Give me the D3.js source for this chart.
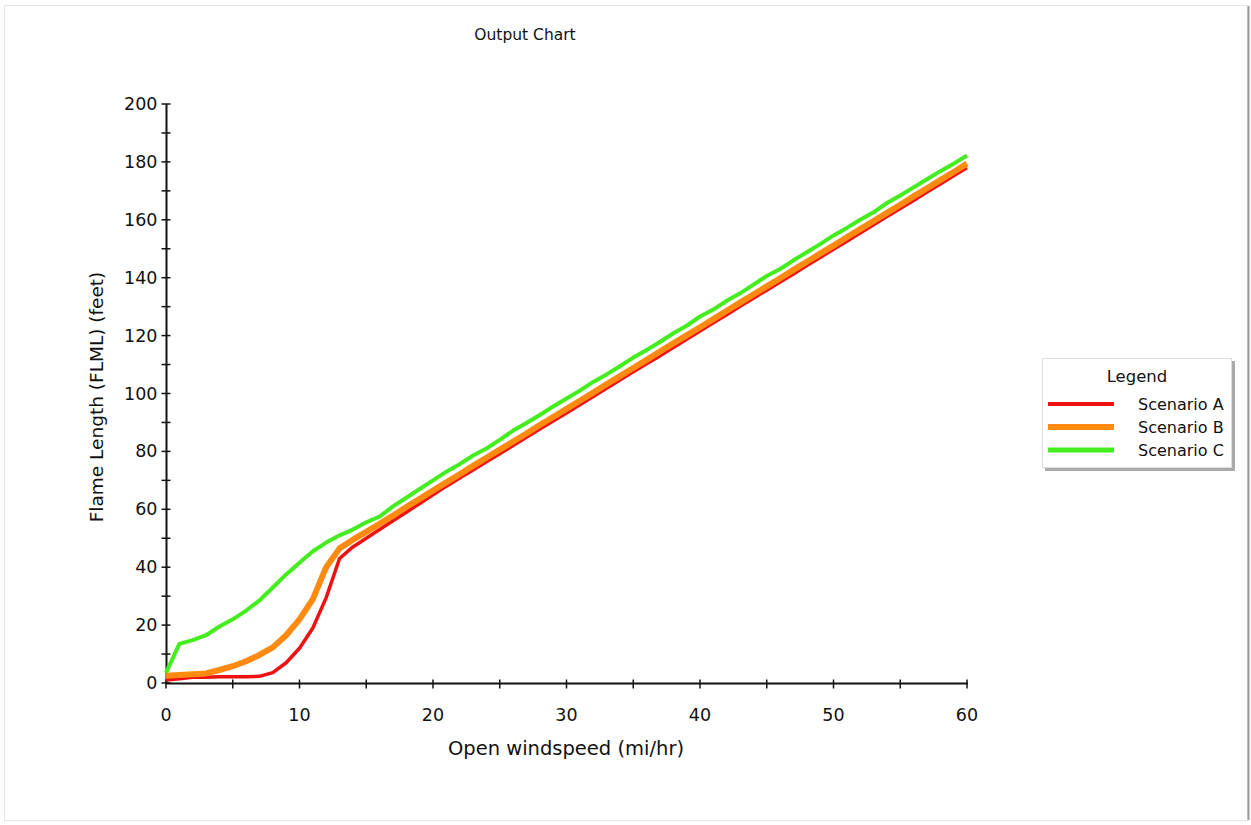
<!DOCTYPE html>
<html>
<head>
<meta charset="utf-8">
<script src="https://cdn.jsdelivr.net/npm/d3@7"></script>
<style>
  body { margin: 0; background: #fff; }
  text { font-family: "DejaVu Sans", Verdana, sans-serif; fill: #111; }
</style>
</head>
<body>
<svg id="chart" width="1251" height="825"></svg>
<script>
'use strict'

// open windspeed (mi/hr)
const windspeed = [0, 1, 2, 3, 4, 5, 6, 7, 8, 9, 10, 11, 12, 13, 14, 15, 16, 17, 18, 19, 20,
  21, 22, 23, 24, 25, 26, 27, 28, 29, 30, 31, 32, 33, 34, 35, 36, 37, 38, 39, 40,
  41, 42, 43, 44, 45, 46, 47, 48, 49, 50, 51, 52, 53, 54, 55, 56, 57, 58, 59, 60]

// flame length (feet)
const scenarioA = [1.0, 1.5, 2.0, 2.0, 2.2, 2.2, 2.2, 2.3, 3.6, 7.0, 12.0, 19.0, 29.5, 43.0, 47.0, 50.0, 53.0, 56.0, 59.0, 62.0, 65.0,
  68.0, 70.8, 73.6, 76.4, 79.2, 82.0, 84.9, 87.7, 90.5, 93.3, 96.1, 99.0, 101.8, 104.7, 107.5, 110.3, 113.0, 115.9, 118.7, 121.6,
  124.4, 127.2, 130.1, 132.9, 135.7, 138.5, 141.3, 144.2, 147.0, 149.8, 152.6, 155.4, 158.3, 161.1, 163.9, 166.7, 169.6, 172.4, 175.2, 178.0]

const scenarioB = [2.5, 2.8, 3.0, 3.3, 4.5, 5.8, 7.5, 9.7, 12.3, 16.5, 22.0, 29.0, 40.0, 46.5, 49.5, 52.2, 55.0, 57.8, 60.8, 63.6, 66.5,
  69.3, 72.1, 75.0, 77.8, 80.6, 83.4, 86.2, 89.1, 91.9, 94.7, 97.5, 100.3, 103.2, 106.0, 108.8, 111.6, 114.5, 117.3, 120.1, 122.9,
  125.7, 128.6, 131.4, 134.2, 137.0, 139.8, 142.7, 145.5, 148.3, 151.1, 154.0, 156.8, 159.6, 162.4, 165.2, 168.1, 170.9, 173.7, 176.5, 179.4]

const scenarioC = [3.5, 13.5, 14.8, 16.5, 19.5, 22.0, 25.0, 28.5, 33.0, 37.5, 41.5, 45.5, 48.5, 51.0, 53.0, 55.5, 57.5, 61.0, 64.0, 67.0, 70.0,
  73.0, 75.6, 78.6, 81.0, 84.0, 87.2, 89.8, 92.6, 95.5, 98.3, 101.0, 104.0, 106.6, 109.4, 112.4, 115.0, 117.8, 120.8, 123.4, 126.6,
  129.0, 132.0, 134.6, 137.6, 140.6, 143.0, 146.0, 148.8, 151.6, 154.6, 157.2, 160.0, 162.6, 165.8, 168.4, 171.2, 174.0, 176.8, 179.4, 182.2]

const seriesNames = ['Scenario A', 'Scenario B', 'Scenario C']
const seriesColors = ['#ee1111', '#ff8a10', '#44ee1e']
const seriesWidths = [3.5, 6, 4]
const seriesValues = [scenarioA, scenarioB, scenarioC]

const xMajorTicks = [0, 10, 20, 30, 40, 50, 60]
const xMinorTicks = [5, 15, 25, 35, 45, 55]
const yMajorTicks = [0, 20, 40, 60, 80, 100, 120, 140, 160, 180, 200]
const yMinorTicks = [10, 30, 50, 70, 90, 110, 130, 150, 170, 190]

const svg = d3.select('#chart')

// window frame
svg.append('rect')
  .attr('x', 4.5).attr('y', 5.5).attr('width', 1243).attr('height', 815)
  .attr('fill', '#fff').attr('stroke', '#e4e4e4')
svg.append('line')
  .attr('x1', 1248.5).attr('x2', 1248.5).attr('y1', 6).attr('y2', 820)
  .attr('stroke', '#999').attr('stroke-width', 2)

const x = d3.scaleLinear().domain([0, 60]).range([166, 967])
const y = d3.scaleLinear().domain([0, 200]).range([683, 104])

svg.append('text')
  .attr('x', 525).attr('y', 40)
  .attr('text-anchor', 'middle')
  .style('font-size', '15.5px')
  .text('Output Chart')

// x axis
const xAxis = svg.append('g').attr('transform', 'translate(0,683.5)')
xAxis.append('line')
  .attr('x1', x(0)).attr('x2', x(60) + 1)
  .attr('stroke', '#111').attr('stroke-width', 2)
xAxis.selectAll('line.major').data(xMajorTicks.concat(xMinorTicks)).enter().append('line')
  .attr('x1', d => x(d)).attr('x2', d => x(d))
  .attr('y1', -4).attr('y2', 5)
  .attr('stroke', '#111').attr('stroke-width', 1.5)
xAxis.selectAll('text').data(xMajorTicks).enter().append('text')
  .attr('x', d => x(d)).attr('y', 37)
  .attr('text-anchor', 'middle')
  .style('font-size', '17.5px')
  .text(d => d)

// y axis
const yAxis = svg.append('g').attr('transform', 'translate(166.5,0)')
yAxis.append('line')
  .attr('y1', y(200)).attr('y2', y(0))
  .attr('stroke', '#111').attr('stroke-width', 2)
yAxis.selectAll('line.tick').data(yMajorTicks.concat(yMinorTicks)).enter().append('line')
  .attr('y1', d => y(d)).attr('y2', d => y(d))
  .attr('x1', -5).attr('x2', 4)
  .attr('stroke', '#111').attr('stroke-width', 1.5)
yAxis.selectAll('text').data(yMajorTicks).enter().append('text')
  .attr('x', -9).attr('y', d => y(d) + 6)
  .attr('text-anchor', 'end')
  .style('font-size', '17.5px')
  .text(d => d)

svg.append('text')
  .attr('x', 566).attr('y', 755)
  .attr('text-anchor', 'middle')
  .style('font-size', '19.5px')
  .text('Open windspeed (mi/hr)')

svg.append('text')
  .attr('transform', 'translate(103,397) rotate(-90)')
  .attr('text-anchor', 'middle')
  .style('font-size', '18.5px')
  .text('Flame Length (FLML) (feet)')

// series lines
const line = d3.line()
  .x((d, i) => x(windspeed[i]))
  .y(d => y(d))

svg.append('g').selectAll('path').data(seriesValues).enter().append('path')
  .attr('d', d => line(d))
  .attr('fill', 'none')
  .attr('stroke', (d, i) => seriesColors[i])
  .attr('stroke-width', (d, i) => seriesWidths[i])
  .attr('stroke-linejoin', 'round')

// legend
const legend = svg.append('g').attr('transform', 'translate(1042,358)')
legend.append('rect')
  .attr('x', 3).attr('y', 3).attr('width', 190).attr('height', 110)
  .attr('fill', '#aaa')
legend.append('rect')
  .attr('x', 0.5).attr('y', 0.5).attr('width', 189).attr('height', 109)
  .attr('fill', '#fff').attr('stroke', '#ddd')
legend.append('text')
  .attr('x', 95).attr('y', 24)
  .attr('text-anchor', 'middle')
  .style('font-size', '16.5px')
  .text('Legend')
const items = legend.selectAll('g.item').data(seriesNames).enter().append('g')
  .attr('transform', (d, i) => `translate(0,${46 + i * 23})`)
items.append('line')
  .attr('x1', 6).attr('x2', 72)
  .attr('stroke', (d, i) => seriesColors[i])
  .attr('stroke-width', (d, i) => [4, 6, 5][i])
items.append('text')
  .attr('x', 96).attr('y', 6)
  .style('font-size', '16px')
  .text(d => d)
</script>
</body>
</html>
